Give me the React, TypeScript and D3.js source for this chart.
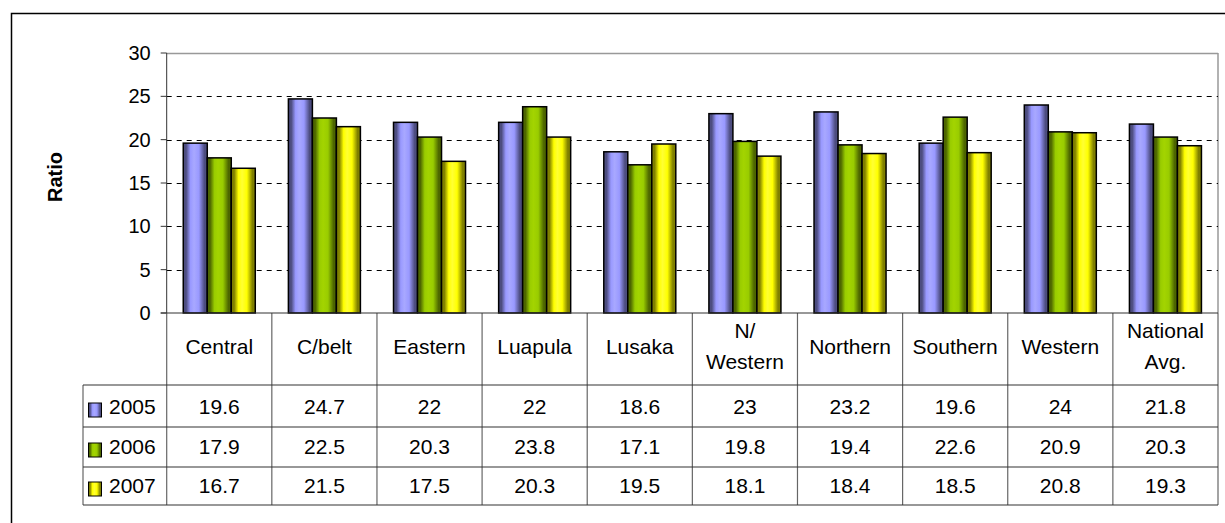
import React from "react";
import * as d3 from "d3";

const categories = [
  ["Central"],
  ["C/belt"],
  ["Eastern"],
  ["Luapula"],
  ["Lusaka"],
  ["N/", "Western"],
  ["Northern"],
  ["Southern"],
  ["Western"],
  ["National", "Avg."],
];
const seriesNames = ["2005", "2006", "2007"];
const values2005 = [19.6, 24.7, 22, 22, 18.6, 23, 23.2, 19.6, 24, 21.8];
const values2006 = [17.9, 22.5, 20.3, 23.8, 17.1, 19.8, 19.4, 22.6, 20.9, 20.3];
const values2007 = [16.7, 21.5, 17.5, 20.3, 19.5, 18.1, 18.4, 18.5, 20.8, 19.3];
const yTicks = [0, 5, 10, 15, 20, 25, 30];

const seriesValues = [values2005, values2006, values2007];
// base, dark edge, light highlight
const palettes = [
  { base: "#9999FF", dark: "#4d4d80", light: "#a8a8ff" },
  { base: "#99CC00", dark: "#4d6600", light: "#a3d400" },
  { base: "#FFFF00", dark: "#808000", light: "#ffff33" },
];

const W = 1225;
const H = 523;
const plotL = 166.7;
const plotR = 1218;
const plotT = 53;
const plotB = 313;
const catRowB = 385;
const rowBs = [427, 467, 505];
const rowBaselines = [414, 454, 493];
const legendL = 83;
const font = "Arial, 'Liberation Sans', sans-serif";
const tableFont = 21;

export default function App() {
  const x = d3
    .scaleBand<number>()
    .domain(d3.range(categories.length))
    .range([plotL, plotR])
    .paddingInner(0)
    .paddingOuter(0);
  const groupW = x.bandwidth() * 0.685;
  const xs = d3
    .scaleBand<number>()
    .domain([0, 1, 2])
    .range([(x.bandwidth() - groupW) / 2, (x.bandwidth() + groupW) / 2]);
  const y = d3.scaleLinear().domain([0, 30]).range([plotB, plotT]);

  return (
    <svg
      width={W}
      height={H}
      style={{ position: "absolute", left: 0, top: 0 }}
      fontFamily={font}
    >
      <defs>
        {palettes.map((p, i) => (
          <linearGradient key={i} id={`cyl${i}`} x1="0" x2="1" y1="0" y2="0">
            <stop offset="0" stopColor={p.dark} />
            <stop offset="0.12" stopColor={p.dark} />
            <stop offset="0.3" stopColor={p.base} />
            <stop offset="0.45" stopColor={p.light} />
            <stop offset="0.65" stopColor={p.base} />
            <stop offset="0.88" stopColor={p.dark} />
            <stop offset="1" stopColor={p.dark} />
          </linearGradient>
        ))}
      </defs>
      <rect x={0} y={0} width={W} height={H} fill="#fff" />
      {/* chart frame */}
      <rect
        x={11.5}
        y={13.5}
        width={W + 10}
        height={H + 10}
        fill="none"
        stroke="#000"
        strokeWidth={1.5}
      />

      {/* plot area border */}
      <line x1={plotL} x2={plotR} y1={plotT + 0.5} y2={plotT + 0.5} stroke="#999" strokeWidth={1.5} />
      <line x1={plotR} x2={plotR} y1={plotT} y2={plotB} stroke="#999" strokeWidth={1.5} />

      {/* gridlines */}
      {yTicks
        .filter((t) => t > 0 && t < 30)
        .map((t) => (
          <line
            key={t}
            x1={plotL}
            x2={plotR}
            y1={Math.round(y(t)) + 0.5}
            y2={Math.round(y(t)) + 0.5}
            stroke="#000"
            strokeDasharray="5,5"
          />
        ))}

      {/* bars */}
      {seriesValues.map((vals, s) =>
        vals.map((v, i) => {
          const bx = (x(i) as number) + (xs(s) as number);
          return (
            <rect
              key={`${s}-${i}`}
              x={bx}
              y={y(v)}
              width={xs.bandwidth()}
              height={plotB - y(v)}
              fill={`url(#cyl${s})`}
              stroke="#000"
              strokeWidth={1.5}
            />
          );
        })
      )}

      {/* y axis */}
      <line x1={plotL} x2={plotL} y1={plotT} y2={plotB} stroke="#333" strokeWidth={1} />
      {yTicks.map((t) => (
        <g key={t}>
          <line x1={plotL - 6} x2={plotL} y1={y(t)} y2={y(t)} stroke="#333" />
          <text
            x={plotL - 16}
            y={y(t) + 7}
            textAnchor="end"
            fontSize={20}
            fill="#000"
          >
            {t}
          </text>
        </g>
      ))}
      <text
        transform={`translate(62,${(plotT + plotB) / 2 - 6}) rotate(-90)`}
        textAnchor="middle"
        fontSize={20}
        fontWeight="bold"
      >
        Ratio
      </text>

      {/* data table */}
      {d3.range(categories.length + 1).map((i) => {
        const lx = i < categories.length ? (x(i) as number) : plotR;
        return (
          <line
            key={i}
            x1={lx}
            x2={lx}
            y1={plotB}
            y2={rowBs[2]}
            stroke="#666"
            strokeWidth={1.2}
          />
        );
      })}
      <line x1={legendL} x2={legendL} y1={catRowB} y2={rowBs[2]} stroke="#666" strokeWidth={1.2} />
      <line x1={plotL - 6} x2={plotR} y1={plotB} y2={plotB} stroke="#333" strokeWidth={1.2} />
      {[catRowB, ...rowBs].map((ry) => (
        <line key={ry} x1={legendL} x2={plotR} y1={ry} y2={ry} stroke="#333" strokeWidth={1.2} />
      ))}

      {categories.map((lines, i) => {
        const cx = (x(i) as number) + x.bandwidth() / 2;
        const baseY = 353.5;
        const lh = 31;
        return (
          <text key={i} textAnchor="middle" fontSize={tableFont} fill="#000">
            {lines.map((l, k) => (
              <tspan key={k} x={cx} y={baseY + (k - (lines.length - 1) / 2) * lh}>
                {l}
              </tspan>
            ))}
          </text>
        );
      })}

      {seriesValues.map((vals, s) => {
        const by = rowBaselines[s];
        return (
          <g key={s}>
            <rect
              x={88.5}
              y={by - 11}
              width={13}
              height={14}
              fill={`url(#cyl${s})`}
              stroke="#000"
              strokeWidth={1}
            />
            <text x={109} y={by} fontSize={tableFont}>
              {seriesNames[s]}
            </text>
            {vals.map((v, i) => (
              <text
                key={i}
                x={(x(i) as number) + x.bandwidth() / 2}
                y={by}
                textAnchor="middle"
                fontSize={tableFont}
              >
                {v}
              </text>
            ))}
          </g>
        );
      })}
    </svg>
  );
}
